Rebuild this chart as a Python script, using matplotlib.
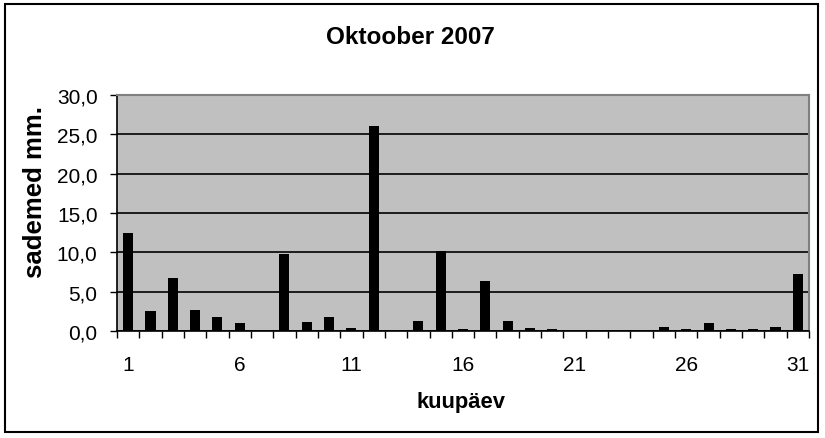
import matplotlib
matplotlib.use("Agg")
import matplotlib.pyplot as plt
from matplotlib.patches import Rectangle
from matplotlib.ticker import FuncFormatter, FixedLocator

days = list(range(1, 32))
precip = [12.5, 2.5, 6.7, 2.7, 1.8, 1.0, 0.0, 9.8, 1.1, 1.8,
          0.4, 26.0, 0.0, 1.3, 10.2, 0.3, 6.4, 1.3, 0.4, 0.3,
          0.0, 0.0, 0.0, 0.0, 0.5, 0.3, 1.0, 0.3, 0.3, 0.5, 7.3]
xtick_labels = ["1", "6", "11", "16", "21", "26", "31"]
title = "Oktoober 2007"
xlabel = "kuupäev"
ylabel = "sademed mm."

plt.rcParams['font.family'] = ['Liberation Sans', 'DejaVu Sans']

fig = plt.figure(figsize=(8.25, 4.39), dpi=100)
fig.patch.set_facecolor("white")
ax = fig.add_axes([117/825, 1-332/439, (809-117)/825, (332-96)/439])
ax.set_facecolor("#C0C0C0")

ax.bar(days, precip, width=0.45, color="black", zorder=3)

ax.set_xlim(0.5, 31.5)
ax.set_ylim(0, 30)
ax.set_yticks([0, 5, 10, 15, 20, 25, 30])
ax.yaxis.set_major_formatter(FuncFormatter(lambda v, p: f"{v:.1f}".replace(".", ",")))
ax.yaxis.grid(True, color="black", linewidth=1.2, zorder=1)
ax.set_axisbelow(True)

# x ticks at category boundaries, labels at centres
ax.xaxis.set_major_locator(FixedLocator([d + 0.5 for d in [0] + days]))
ax.xaxis.set_major_formatter(FuncFormatter(lambda v, p: ""))
ax.xaxis.set_minor_locator(FixedLocator([int(s) for s in xtick_labels]))
ax.set_xticklabels(xtick_labels, minor=True)
ax.tick_params(axis="x", which="major", direction="out", length=5, width=1, color="black")
ax.tick_params(axis="x", which="minor", length=0, pad=17, labelsize=15)
ax.tick_params(axis="y", which="major", direction="out", length=5, width=1, pad=9, labelsize=15)

for s in ["left", "bottom"]:
    ax.spines[s].set_color("black")
    ax.spines[s].set_linewidth(1.2)
for s in ["top", "right"]:
    ax.spines[s].set_color("#808080")
    ax.spines[s].set_linewidth(1.5)

fig.text(410/825, 1-37/439, title, ha="center", va="center", fontsize=17.5, fontweight="bold")
fig.text(461/825, 1-403/439, xlabel, ha="center", va="center", fontsize=15.8, fontweight="bold")
fig.text(35/825, 1-192/439, ylabel, ha="center", va="center", rotation=90, fontsize=18.5, fontweight="bold")

fig.patches.append(Rectangle((5/825, 1-433/439), (818-5)/825, (433-5)/439,
                             transform=fig.transFigure, fill=False,
                             edgecolor="black", linewidth=1.5))

fig.savefig("out.png", dpi=100)
